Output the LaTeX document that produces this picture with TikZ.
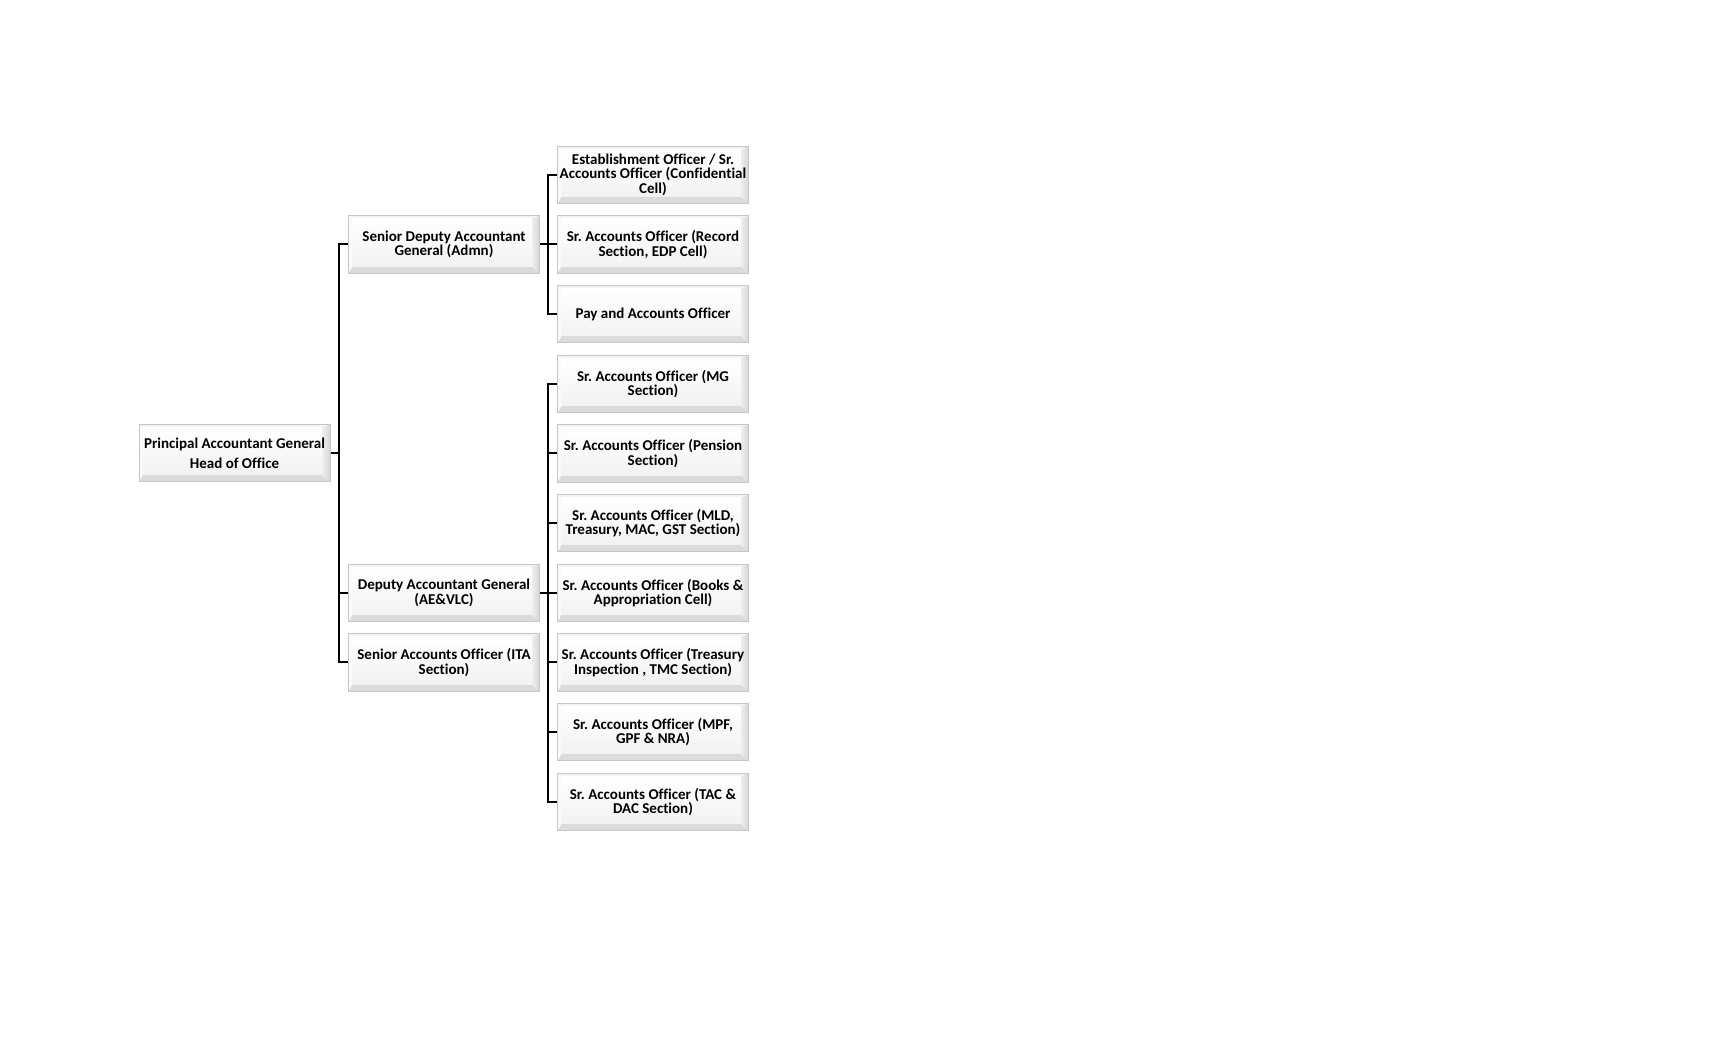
\documentclass[tikz,border=0pt]{standalone}
\usepackage{fontspec}
\setmainfont{Carlito}[Ligatures=NoCommon]
\frenchspacing
\newcommand\boxfont{\fontsize{7.5pt}{7.2pt}\selectfont\bfseries}
\begin{document}
\begin{tikzpicture}[x=0.5pt,y=-0.5pt,
  conn/.style={draw=black,line width=1pt,line join=miter},
  orgbox/.style={draw=gray!45,line width=0.5pt,fill=gray!6,
    minimum width=95.5pt,minimum height=28.75pt,inner sep=0pt,
    align=center,font=\boxfont,
    path picture={
      \path (path picture bounding box.south west) coordinate (bA)
            (path picture bounding box.south east) coordinate (bB)
            (path picture bounding box.north east) coordinate (bC)
            (path picture bounding box.north west) coordinate (bD);
      \path ([shift={(2pt,3.5pt)}]bA) coordinate (ia)
            ([shift={(-4pt,3.5pt)}]bB) coordinate (ib)
            ([shift={(-4pt,-1.5pt)}]bC) coordinate (ic)
            ([shift={(2pt,-1.5pt)}]bD) coordinate (id);
      \fill[gray!28] (bA)--(bB)--(ib)--(ia)--cycle;
      \shade[left color=gray!12,right color=gray!32] (bB)--(bC)--(ic)--(ib)--cycle;
      \fill[gray!9] (bC)--(bD)--(id)--(ic)--cycle;
      \fill[gray!4] (bD)--(bA)--(ia)--(id)--cycle;
      \shade[top color=white,bottom color=gray!10] (ia) rectangle (ic);
    }}]
\useasboundingbox (0,0) rectangle (1713,1040);

% level 1
\node[orgbox] (pag) at (234.5,453) {Principal Accountant General\\[3pt]Head of Office};

% level 2
\node[orgbox] (sdag) at (444,244.4) {Senior Deputy Accountant\\General (Admn)};
\node[orgbox] (dag)  at (444,592.8) {Deputy Accountant General\\(AE\&VLC)};
\node[orgbox] (sao)  at (444,662.4) {Senior Accounts Officer (ITA\\Section)};

% level 3
\node[orgbox] (c1)  at (653,174.75) {Establishment Officer / Sr.\\Accounts Officer (Confidential\\Cell)};
\node[orgbox] (c2)  at (653,244.4)  {Sr. Accounts Officer (Record\\Section, EDP Cell)};
\node[orgbox] (c3)  at (653,314.1)  {Pay and Accounts Officer};
\node[orgbox] (c4)  at (653,383.8)  {Sr. Accounts Officer (MG\\Section)};
\node[orgbox] (c5)  at (653,453.4)  {Sr. Accounts Officer (Pension\\Section)};
\node[orgbox] (c6)  at (653,523.1)  {Sr. Accounts Officer (MLD,\\Treasury, MAC, GST Section)};
\node[orgbox] (c7)  at (653,592.8)  {Sr. Accounts Officer (Books \&\\Appropriation Cell)};
\node[orgbox] (c8)  at (653,662.4)  {Sr. Accounts Officer (Treasury\\Inspection , TMC Section)};
\node[orgbox] (c9)  at (653,732.1)  {Sr. Accounts Officer (MPF,\\GPF \& NRA)};
\node[orgbox] (c10) at (653,801.8)  {Sr. Accounts Officer (TAC \&\\DAC Section)};

% junctions
\coordinate (j1) at (339,453);
\coordinate (j2) at (548,244.4);
\coordinate (j3) at (548,592.8);

% connectors
\draw[conn] (pag.east) -- (j1);
\draw[conn] (j1) |- (sdag.west);
\draw[conn] (j1) |- (dag.west);
\draw[conn] (j1) |- (sao.west);

\draw[conn] (sdag.east) -- (j2);
\foreach \c in {c1,c2,c3}{\draw[conn] (j2) |- (\c.west);}

\draw[conn] (dag.east) -- (j3);
\foreach \c in {c4,c5,c6,c7,c8,c9,c10}{\draw[conn] (j3) |- (\c.west);}
\end{tikzpicture}
\end{document}
